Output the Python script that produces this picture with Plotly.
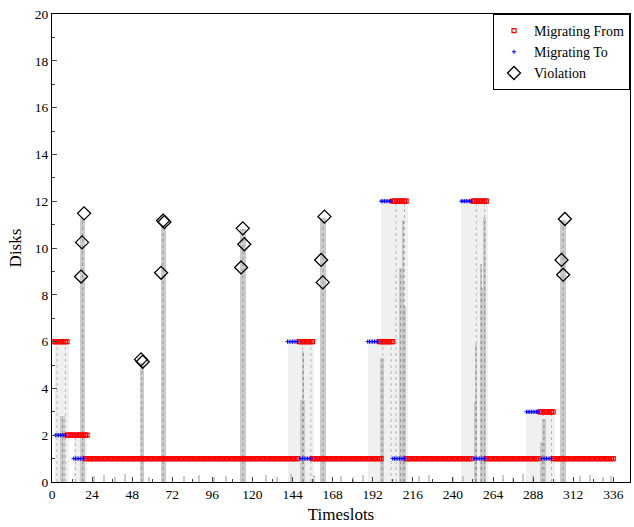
import numpy as np
import plotly.graph_objects as go

# ---- data ----
# Migrating From: segments (start timeslot, end timeslot exclusive, disks)
from_start = [0, 9, 20, 148, 156, 196, 204, 212, 252, 260, 292, 300]
from_end = [10, 22, 148, 157, 198, 205, 213, 252, 261, 292, 301, 337]
from_disks = [6, 2, 1, 6, 1, 6, 12, 1, 12, 1, 3, 1]

# Migrating To: segments
to_start = [2, 13, 141, 149, 189, 197, 204, 245, 253, 284, 293]
to_end = [9, 20, 148, 156, 196, 204, 212, 252, 260, 292, 300]
to_disks = [2, 1, 6, 1, 6, 12, 1, 12, 1, 3, 1]

# Violations
viol_t = [17.4, 18.0, 19.2, 53.3, 54.3, 65.3, 66.5, 67.3, 113.2, 114.2, 115.1,
          161.1, 162.1, 163.1, 305.0, 306.0, 307.0]
viol_disks = [8.78, 10.24, 11.48, 5.24, 5.14, 8.94, 11.17, 11.11, 9.17, 10.84, 10.16,
              9.49, 8.53, 11.34, 9.49, 8.86, 11.24]

# Migration windows (light shading)
window_start = [2, 13, 141, 189, 197, 245, 284]
window_end = [10, 21, 157, 205, 213, 261, 301]
window_disks = [6, 2, 6, 6, 12, 12, 3]

# Load spikes (center timeslot, width, height)
spike_t = [6.3, 18.3, 53.8, 66.5, 114.3, 150.0, 150.5, 162.3, 197.6, 208.6, 210.7, 210.3,
           253.6, 253.9, 257.0, 257.0, 259.0, 293.5, 294.5, 306.0]
spike_w = [3.0, 3.0, 2.2, 3.0, 3.4, 3.0, 1.2, 3.4, 2.3, 1.8, 2.4, 1.0,
           1.8, 1.0, 1.8, 1.0, 1.6, 3.0, 2.0, 3.5]
spike_h = [2.8, 11.3, 5.1, 11.0, 10.8, 3.5, 5.6, 11.3, 5.3, 9.15, 7.5, 11.2,
           3.4, 5.9, 8.3, 9.3, 11.3, 1.7, 2.7, 11.2]

# small baseline load marks
small_t = [25, 31, 38, 44, 58, 79, 88, 97, 104, 128, 135, 143, 157, 173, 180, 186,
           220, 226, 240, 246, 270, 276, 282, 288, 316, 322, 330, 335]
small_h = [0.25, 0.3, 0.2, 0.35, 0.2, 0.25, 0.3, 0.2, 0.25, 0.3, 0.2, 0.35, 0.3, 0.25, 0.2, 0.3,
           0.25, 0.3, 0.2, 0.25, 0.3, 0.2, 0.35, 0.3, 0.25, 0.3, 0.2, 0.25]

x_ticks = [0, 24, 48, 72, 96, 120, 144, 168, 192, 216, 240, 264, 288, 312, 336]
y_ticks = [0, 2, 4, 6, 8, 10, 12, 14, 16, 18, 20]


def expand(starts, ends, levels):
    xs, ys = [], []
    for s, e, l in zip(starts, ends, levels):
        t = np.arange(s, e)
        xs.extend(t.tolist())
        ys.extend([l] * len(t))
    return xs, ys


fx, fy = expand(from_start, from_end, from_disks)
tx, ty = expand(to_start, to_end, to_disks)

fig = go.Figure()

# light migration windows
fig.add_trace(go.Bar(
    x=[(s + e) / 2 for s, e in zip(window_start, window_end)],
    width=[e - s for s, e in zip(window_start, window_end)],
    y=window_disks, marker=dict(color="#f0f0f0", line=dict(width=0)),
    showlegend=False, hoverinfo="skip"))

# dotted lines inside migration windows
dx, dy = [], []
for s, e, l in zip(window_start, window_end, window_disks):
    for xv in (e - 7, e - 2):
        dx += [xv, xv, None]
        dy += [0, l, None]
fig.add_trace(go.Scatter(x=dx, y=dy, mode="lines",
                         line=dict(color="#b8b8b8", width=1, dash="dot"),
                         showlegend=False, hoverinfo="skip"))

# spikes
fig.add_trace(go.Bar(
    x=spike_t + small_t, width=spike_w + [0.8] * len(small_t),
    y=spike_h + small_h,
    marker=dict(color="#cbcbcb", line=dict(width=0)),
    showlegend=False, hoverinfo="skip"))

sx, sy = [], []
for t, h in zip(spike_t, spike_h):
    sx += [t, t, None]
    sy += [0, h, None]
fig.add_trace(go.Scatter(x=sx, y=sy, mode="lines",
                         line=dict(color="#999999", width=1, dash="dot"),
                         showlegend=False, hoverinfo="skip"))

fig.add_trace(go.Scatter(
    x=fx, y=fy, mode="markers", name="Migrating From",
    marker=dict(symbol="square-open", size=4, color="red", line=dict(width=1.2, color="red"))))
fig.add_trace(go.Scatter(
    x=tx, y=ty, mode="markers", name="Migrating To",
    marker=dict(symbol="cross-thin-open", size=3, color="blue", line=dict(width=1, color="blue"))))
fig.add_trace(go.Scatter(
    x=viol_t, y=viol_disks, mode="markers", name="Violation",
    marker=dict(symbol="diamond-open", size=10, color="black", line=dict(width=1.3, color="black"))))

font_family = "Liberation Serif"
fig.update_layout(
    width=634, height=527,
    margin=dict(l=52, r=4, t=14, b=45),
    paper_bgcolor="white", plot_bgcolor="white",
    barmode="overlay", bargap=0,
    font=dict(family=font_family, size=13, color="black"),
    legend=dict(x=1, y=1, xanchor="right", yanchor="top",
                bgcolor="white", bordercolor="black", borderwidth=1,
                font=dict(size=14), tracegroupgap=0, itemwidth=30,
                itemsizing="trace"),
    xaxis=dict(range=[0, 346], tickvals=x_ticks, ticks="inside", ticklen=5,
               showline=True, mirror=True, linecolor="black", linewidth=1,
               showgrid=False, zeroline=False, tickfont=dict(size=13.5),
               minor=dict(dtick=12, ticks="inside", ticklen=3),
               title=dict(text="Timeslots", font=dict(size=17), standoff=6)),
    yaxis=dict(range=[0, 20], tickvals=y_ticks, ticks="inside", ticklen=5,
               showline=True, mirror=True, linecolor="black", linewidth=1,
               showgrid=False, zeroline=False, tickfont=dict(size=13.5),
               minor=dict(dtick=1, ticks="inside", ticklen=3),
               title=dict(text="Disks", font=dict(size=17), standoff=8)),
)

fig.write_html("out.html", config={"displayModeBar": False},
               post_script="document.body.style.margin='0';document.body.style.padding='0';")
